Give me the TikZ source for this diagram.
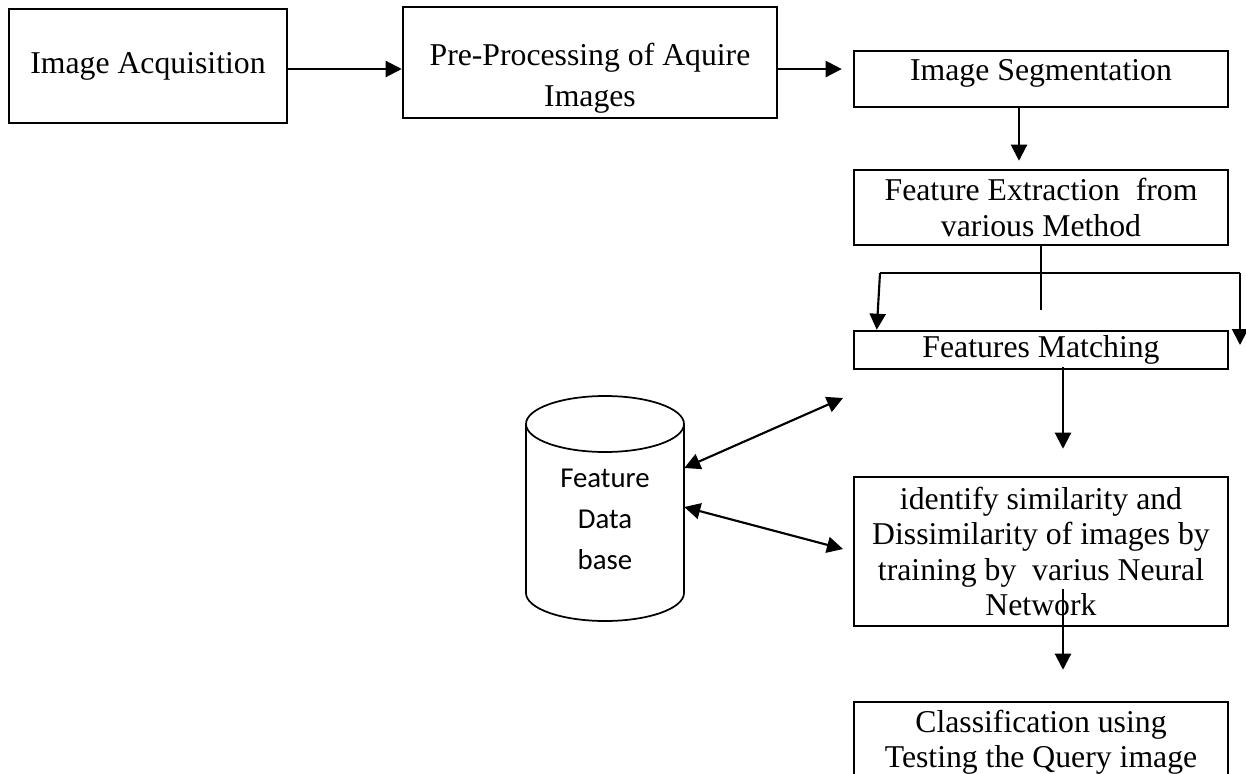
\documentclass[tikz,border=0pt]{standalone}
\usepackage{fontspec}
\usepackage{tikz}
\usetikzlibrary{arrows.meta}
\setmainfont{Liberation Serif}
\newfontfamily\dbfont{Carlito}
\newcommand{\boxtext}{\fontsize{23.8}{26.6}\selectfont}
\newcommand{\dbtext}{\dbfont\fontsize{21.6}{30.75}\selectfont}

\begin{document}
\begin{tikzpicture}[x=0.75pt,y=-0.75pt,font=\boxtext,
  stepbox/.style={draw=black,line width=1.9pt,minimum width=280.5pt,align=center,inner sep=0pt},
  flow/.style={-{Triangle[length=12pt,width=12pt]},line width=1.6pt},
  dbarrow/.style={{Triangle[length=12pt,width=12pt]}-{Triangle[length=12pt,width=12pt]},line width=1.6pt}]
\useasboundingbox (0,0) rectangle (1246,774);
\clip (0,0) rectangle (1246,774);

\node[stepbox,minimum width=208.5pt,minimum height=85.5pt] (acq) at (148,66) {Image Acquisition};
\node[stepbox,minimum height=83.25pt] (pre) at (590,62.5) {};
\node[align=center,font=\fontsize{23.8}{30.75}\selectfont] (pretext) at ([yshift=-11.6pt]pre.center) {Pre-Processing of Aquire\\Images};
\node[stepbox,minimum height=42pt] (seg) at (1041,79) {};
\node (segtext) at ([yshift=4pt]seg.center) {Image Segmentation};
\node[stepbox,minimum height=56.25pt] (ext) at (1041,207.5) {Feature Extraction\ \ from\\various Method};
\node[stepbox,minimum height=28.5pt] (match) at (1041,350) {Features Matching};
\node[stepbox,minimum height=111.75pt] (sim) at (1041,551.5) {identify similarity and\\Dissimilarity of images by\\training by\ \ varius Neural\\Network};
\node[stepbox,minimum height=60pt] (cls) at (1041,742) {Classification using\\Testing the Query image};

% feature database
\node[font=\dbtext,align=center,minimum width=118.5pt,inner sep=0pt] (db) at (605,519) {Feature\\Data\\base};
\draw[line width=1.3pt] (605,424) ellipse[x radius=79,y radius=28];
\draw[line width=1.3pt] (526,424) -- (526,593) arc[start angle=180,end angle=0,x radius=79,y radius=28] -- (684,424);

\draw[flow] ([yshift=-2.25pt]acq.east) -- ([yshift=-2.25pt]acq.east -| pre.west);
\draw[flow] ([yshift=-4.9pt]pre.east) -- ([yshift=-4.9pt,xshift=-8.25pt]pre.east -| seg.west);
\draw[flow] ([xshift=-16.5pt]seg.south) -- ([xshift=-16.5pt,yshift=6pt]ext.north);

% split below extraction
\coordinate (brL) at (880,273);
\coordinate (brR) at (1240,273);
\draw[line width=1.6pt] (ext.south) -- ++(0,64);
\draw[line width=1.6pt] (brL) -- (brR);
\draw[flow] (brL) -- ([xshift=18pt]match.north west);
\draw[flow] (brR) -- ++(0,72);

\draw[flow] ([xshift=16.5pt,yshift=2.25pt]match.south) -- ([xshift=16.5pt,yshift=20.25pt]sim.north);
\draw[flow] ([xshift=16.5pt,yshift=28.5pt]sim.south) -- ([xshift=16.5pt,yshift=23.25pt]cls.north);

\coordinate (dbhi) at (843,398);
\coordinate (dblo) at (843,549);
\draw[dbarrow] ([yshift=38.25pt]db.east) -- (dbhi);
\draw[dbarrow] ([yshift=9pt]db.east) -- (dblo);
\end{tikzpicture}
\end{document}
